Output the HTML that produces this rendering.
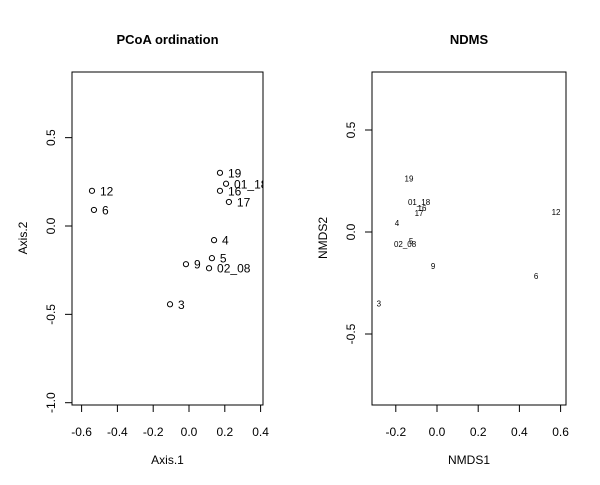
<!DOCTYPE html>
<html><head><meta charset="utf-8"><style>
body{margin:0;background:#fff;}
svg text{font-family:"Liberation Sans",Arial,sans-serif;fill:#000;}
</style></head><body>
<svg id="c" width="600" height="480" xmlns="http://www.w3.org/2000/svg">
<defs><clipPath id="clipL"><rect x="72" y="72" width="191" height="333"/></clipPath><clipPath id="clipR"><rect x="372" y="72" width="194" height="333"/></clipPath></defs>
</svg>
<script>
const pcoaLabels=["12","6","19","01_18","16","17","4","5","9","02_08","3"];
const pcoaX=[-0.542,-0.531,0.173,0.207,0.173,0.223,0.140,0.128,-0.017,0.112,-0.106];
const pcoaY=[0.199,0.091,0.301,0.239,0.199,0.136,-0.08,-0.182,-0.216,-0.239,-0.443];
const pcoaXTicks=[-0.6,-0.4,-0.2,0.0,0.2,0.4];
const pcoaYTicks=[-1.0,-0.5,0.0,0.5];
const nmdsLabels=["19","01_18","16","17","4","02_08","5","9","6","12","3"];
const nmdsX=[-0.136,-0.087,-0.073,-0.087,-0.194,-0.155,-0.126,-0.019,0.481,0.578,-0.282];
const nmdsY=[0.263,0.146,0.117,0.093,0.044,-0.059,-0.044,-0.166,-0.215,0.098,-0.351];
const nmdsXTicks=[-0.2,0.0,0.2,0.4,0.6];
const nmdsYTicks=[-0.5,0.0,0.5];

const svg=document.getElementById('c');
const NS="http://www.w3.org/2000/svg";
function mk(t,a,txt,parent){const e=document.createElementNS(NS,t);for(const k in a)e.setAttribute(k,a[k]);if(txt!=null)e.textContent=txt;(parent||svg).appendChild(e);return e;}
function fmt(v){return v.toFixed(1);}

function panel(o){
  const sx=v=>o.x0+v*o.kx, sy=v=>o.y0-v*o.ky;
  let e=mk('rect',{x:o.L,y:72,width:o.R-o.L,height:333,fill:'none',stroke:'#000','stroke-width':1});
  
  
  e=mk('text',{x:(o.L+o.R)/2,y:44,'text-anchor':'middle','font-size':13,'font-weight':'bold'},o.title);
  
  
  e=mk('text',{x:(o.L+o.R)/2,y:464,'text-anchor':'middle','font-size':12},o.xlab);
  
  
  e=mk('text',{x:0,y:0,'text-anchor':'middle','font-size':12,transform:`translate(${o.L-45},${238}) rotate(-90)`},o.ylab);
  
  
  const xt=o.xt;
  e=mk('line',{x1:sx(xt[0]),x2:sx(xt[xt.length-1]),y1:405,y2:405,stroke:'#000'});
  
  
  xt.forEach(v=>{
    let l=mk('line',{x1:sx(v),x2:sx(v),y1:405,y2:412,stroke:'#000'});
    
    
    let t=mk('text',{x:sx(v),y:436,'text-anchor':'middle','font-size':12},fmt(v));
    
    
  });
  const yt=o.yt;
  e=mk('line',{x1:o.L,x2:o.L,y1:sy(yt[0]),y2:sy(yt[yt.length-1]),stroke:'#000'});
  
  
  yt.forEach(v=>{
    let l=mk('line',{x1:o.L-7,x2:o.L,y1:sy(v),y2:sy(v),stroke:'#000'});
    
    
    let t=mk('text',{x:0,y:0,'text-anchor':'middle','font-size':12,transform:`translate(${o.L-17},${sy(v)}) rotate(-90)`},fmt(v));
    
    
  });
  const g=mk('g',{'clip-path':'url(#'+o.clip+')'});
  
  
  o.labels.forEach((lab,i)=>{
    const px=sx(o.xs[i]), py=sy(o.ys[i]);
    if(o.points){
      let c=mk('circle',{cx:px,cy:py,r:2.6,fill:'none',stroke:'#000','stroke-width':1},null,g);
      
      
      let t=mk('text',{x:px+8,y:py+4.5,'font-size':12},lab,g);
      
      
    } else {
      let t=mk('text',{x:px,y:py+3,'text-anchor':'middle','font-size':8},lab,g);
      
      
    }
  });
}
panel({id:'pcoa',clip:'clipL',L:72,R:263,x0:189,kx:179,y0:226,ky:176.7,title:'PCoA ordination',xlab:'Axis.1',ylab:'Axis.2',xt:pcoaXTicks,yt:pcoaYTicks,labels:pcoaLabels,xs:pcoaX,ys:pcoaY,points:true});
panel({id:'nmds',clip:'clipR',L:372,R:566,x0:437,kx:206,y0:232,ky:204,title:'NDMS',xlab:'NMDS1',ylab:'NMDS2',xt:nmdsXTicks,yt:nmdsYTicks,labels:nmdsLabels,xs:nmdsX,ys:nmdsY,points:false});
</script>
</body></html>
